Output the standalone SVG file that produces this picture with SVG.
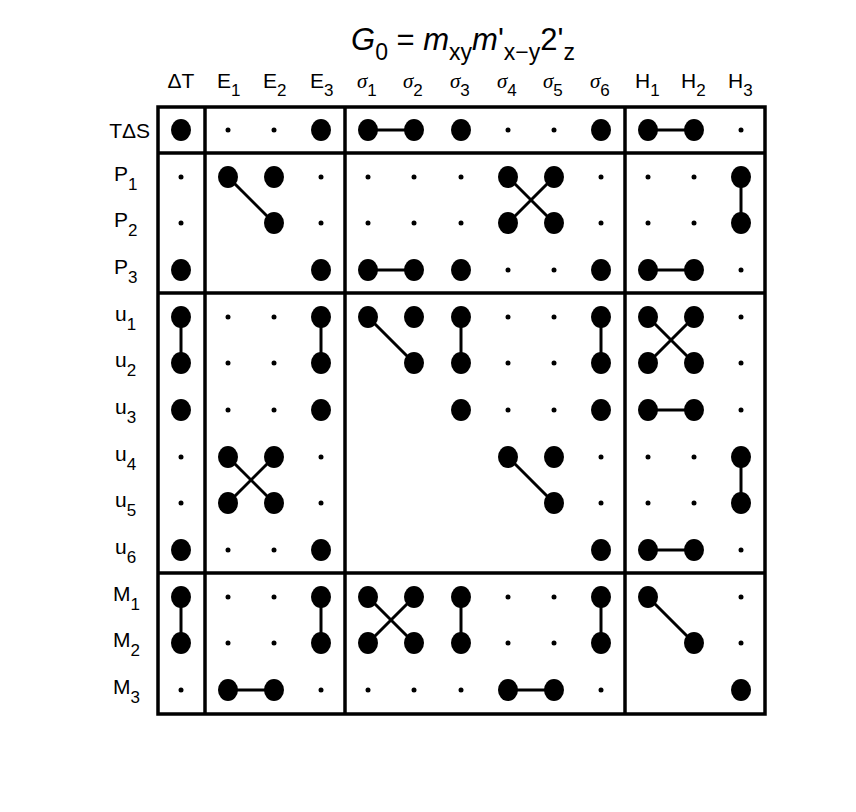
<svg xmlns="http://www.w3.org/2000/svg" xmlns:xlink="http://www.w3.org/1999/xlink" width="856" height="812" viewBox="0 0 856 812">
<style>
text{font-family:"Liberation Sans",Arial,sans-serif;fill:#000}
.lab{font-size:21px}
.sub{font-size:17px}
.sg{font-family:"Liberation Serif",serif;font-style:italic}
.ln{stroke:#000;stroke-width:3;fill:none}
.box{stroke:#000;stroke-width:3.5;fill:none}
</style>
<defs>
<ellipse id="B" rx="10" ry="11" fill="#000"/>
<circle id="s" r="2.5" fill="#000"/>
</defs>
<rect width="856" height="812" fill="#fff"/>
<text x="463" y="50" text-anchor="middle" style="font-size:31px"><tspan font-style="italic">G</tspan><tspan style="font-size:23px" dy="10">0</tspan><tspan dy="-10"> = </tspan><tspan font-style="italic">m</tspan><tspan style="font-size:23px" dy="10">xy</tspan><tspan dy="-10" font-style="italic">m</tspan><tspan>'</tspan><tspan style="font-size:23px" dy="10">x−y</tspan><tspan dy="-10">2'</tspan><tspan style="font-size:23px" dy="10">z</tspan></text>
<g id="collabels" class="lab">
<text x="181" y="88" text-anchor="middle">ΔT</text>
<text x="217" y="88">E<tspan class="sub" dy="8">1</tspan></text>
<text x="263" y="88">E<tspan class="sub" dy="8">2</tspan></text>
<text x="310" y="88">E<tspan class="sub" dy="8">3</tspan></text>
<text x="357" y="88"><tspan class="sg">σ</tspan><tspan class="sub" dy="8">1</tspan></text>
<text x="403" y="88"><tspan class="sg">σ</tspan><tspan class="sub" dy="8">2</tspan></text>
<text x="450" y="88"><tspan class="sg">σ</tspan><tspan class="sub" dy="8">3</tspan></text>
<text x="497" y="88"><tspan class="sg">σ</tspan><tspan class="sub" dy="8">4</tspan></text>
<text x="543" y="88"><tspan class="sg">σ</tspan><tspan class="sub" dy="8">5</tspan></text>
<text x="590" y="88"><tspan class="sg">σ</tspan><tspan class="sub" dy="8">6</tspan></text>
<text x="635" y="88">H<tspan class="sub" dy="8">1</tspan></text>
<text x="681" y="88">H<tspan class="sub" dy="8">2</tspan></text>
<text x="728" y="88">H<tspan class="sub" dy="8">3</tspan></text>
</g>
<g id="rowlabels" class="lab">
<text x="150" y="138" text-anchor="end">TΔS</text>
<text x="114" y="181">P<tspan class="sub" dy="9">1</tspan></text>
<text x="114" y="227">P<tspan class="sub" dy="9">2</tspan></text>
<text x="114" y="274">P<tspan class="sub" dy="9">3</tspan></text>
<text x="115" y="321">u<tspan class="sub" dy="9">1</tspan></text>
<text x="115" y="367">u<tspan class="sub" dy="9">2</tspan></text>
<text x="115" y="414">u<tspan class="sub" dy="9">3</tspan></text>
<text x="115" y="461">u<tspan class="sub" dy="9">4</tspan></text>
<text x="115" y="507">u<tspan class="sub" dy="9">5</tspan></text>
<text x="115" y="554">u<tspan class="sub" dy="9">6</tspan></text>
<text x="113" y="601">M<tspan class="sub" dy="9">1</tspan></text>
<text x="113" y="647">M<tspan class="sub" dy="9">2</tspan></text>
<text x="113" y="694">M<tspan class="sub" dy="9">3</tspan></text>
</g>
<g id="frame" class="box">
<rect x="158" y="107" width="607" height="607"/>
<line x1="205" y1="107" x2="205" y2="714"/>
<line x1="345" y1="107" x2="345" y2="714"/>
<line x1="625" y1="107" x2="625" y2="714"/>
<line x1="158" y1="153" x2="765" y2="153"/>
<line x1="158" y1="293" x2="765" y2="293"/>
<line x1="158" y1="573" x2="765" y2="573"/>
</g>
<g id="connectors" class="ln">
<line x1="368" y1="130" x2="414" y2="130"/>
<line x1="648" y1="130" x2="694" y2="130"/>
<line x1="228" y1="177" x2="274" y2="223"/>
<line x1="508" y1="177" x2="554" y2="223"/>
<line x1="554" y1="177" x2="508" y2="223"/>
<line x1="741" y1="177" x2="741" y2="223"/>
<line x1="368" y1="270" x2="414" y2="270"/>
<line x1="648" y1="270" x2="694" y2="270"/>
<line x1="181" y1="317" x2="181" y2="363"/>
<line x1="321" y1="317" x2="321" y2="363"/>
<line x1="368" y1="317" x2="414" y2="363"/>
<line x1="461" y1="317" x2="461" y2="363"/>
<line x1="601" y1="317" x2="601" y2="363"/>
<line x1="648" y1="317" x2="694" y2="363"/>
<line x1="694" y1="317" x2="648" y2="363"/>
<line x1="648" y1="410" x2="694" y2="410"/>
<line x1="228" y1="457" x2="274" y2="503"/>
<line x1="274" y1="457" x2="228" y2="503"/>
<line x1="508" y1="457" x2="554" y2="503"/>
<line x1="741" y1="457" x2="741" y2="503"/>
<line x1="648" y1="550" x2="694" y2="550"/>
<line x1="181" y1="597" x2="181" y2="643"/>
<line x1="321" y1="597" x2="321" y2="643"/>
<line x1="368" y1="597" x2="414" y2="643"/>
<line x1="414" y1="597" x2="368" y2="643"/>
<line x1="461" y1="597" x2="461" y2="643"/>
<line x1="601" y1="597" x2="601" y2="643"/>
<line x1="648" y1="597" x2="694" y2="643"/>
<line x1="228" y1="690" x2="274" y2="690"/>
<line x1="508" y1="690" x2="554" y2="690"/>
</g>
<g id="row-TdS" transform="translate(0,130)">
<use href="#B" x="181"/><use href="#s" x="228"/><use href="#s" x="274"/><use href="#B" x="321"/><use href="#B" x="368"/><use href="#B" x="414"/><use href="#B" x="461"/><use href="#s" x="508"/><use href="#s" x="554"/><use href="#B" x="601"/><use href="#B" x="648"/><use href="#B" x="694"/><use href="#s" x="741"/>
</g>
<g id="row-P1" transform="translate(0,177)">
<use href="#s" x="181"/><use href="#B" x="228"/><use href="#B" x="274"/><use href="#s" x="321"/><use href="#s" x="368"/><use href="#s" x="414"/><use href="#s" x="461"/><use href="#B" x="508"/><use href="#B" x="554"/><use href="#s" x="601"/><use href="#s" x="648"/><use href="#s" x="694"/><use href="#B" x="741"/>
</g>
<g id="row-P2" transform="translate(0,223)">
<use href="#s" x="181"/><use href="#B" x="274"/><use href="#s" x="321"/><use href="#s" x="368"/><use href="#s" x="414"/><use href="#s" x="461"/><use href="#B" x="508"/><use href="#B" x="554"/><use href="#s" x="601"/><use href="#s" x="648"/><use href="#s" x="694"/><use href="#B" x="741"/>
</g>
<g id="row-P3" transform="translate(0,270)">
<use href="#B" x="181"/><use href="#B" x="321"/><use href="#B" x="368"/><use href="#B" x="414"/><use href="#B" x="461"/><use href="#s" x="508"/><use href="#s" x="554"/><use href="#B" x="601"/><use href="#B" x="648"/><use href="#B" x="694"/><use href="#s" x="741"/>
</g>
<g id="row-u1" transform="translate(0,317)">
<use href="#B" x="181"/><use href="#s" x="228"/><use href="#s" x="274"/><use href="#B" x="321"/><use href="#B" x="368"/><use href="#B" x="414"/><use href="#B" x="461"/><use href="#s" x="508"/><use href="#s" x="554"/><use href="#B" x="601"/><use href="#B" x="648"/><use href="#B" x="694"/><use href="#s" x="741"/>
</g>
<g id="row-u2" transform="translate(0,363)">
<use href="#B" x="181"/><use href="#s" x="228"/><use href="#s" x="274"/><use href="#B" x="321"/><use href="#B" x="414"/><use href="#B" x="461"/><use href="#s" x="508"/><use href="#s" x="554"/><use href="#B" x="601"/><use href="#B" x="648"/><use href="#B" x="694"/><use href="#s" x="741"/>
</g>
<g id="row-u3" transform="translate(0,410)">
<use href="#B" x="181"/><use href="#s" x="228"/><use href="#s" x="274"/><use href="#B" x="321"/><use href="#B" x="461"/><use href="#s" x="508"/><use href="#s" x="554"/><use href="#B" x="601"/><use href="#B" x="648"/><use href="#B" x="694"/><use href="#s" x="741"/>
</g>
<g id="row-u4" transform="translate(0,457)">
<use href="#s" x="181"/><use href="#B" x="228"/><use href="#B" x="274"/><use href="#s" x="321"/><use href="#B" x="508"/><use href="#B" x="554"/><use href="#s" x="601"/><use href="#s" x="648"/><use href="#s" x="694"/><use href="#B" x="741"/>
</g>
<g id="row-u5" transform="translate(0,503)">
<use href="#s" x="181"/><use href="#B" x="228"/><use href="#B" x="274"/><use href="#s" x="321"/><use href="#B" x="554"/><use href="#s" x="601"/><use href="#s" x="648"/><use href="#s" x="694"/><use href="#B" x="741"/>
</g>
<g id="row-u6" transform="translate(0,550)">
<use href="#B" x="181"/><use href="#s" x="228"/><use href="#s" x="274"/><use href="#B" x="321"/><use href="#B" x="601"/><use href="#B" x="648"/><use href="#B" x="694"/><use href="#s" x="741"/>
</g>
<g id="row-M1" transform="translate(0,597)">
<use href="#B" x="181"/><use href="#s" x="228"/><use href="#s" x="274"/><use href="#B" x="321"/><use href="#B" x="368"/><use href="#B" x="414"/><use href="#B" x="461"/><use href="#s" x="508"/><use href="#s" x="554"/><use href="#B" x="601"/><use href="#B" x="648"/><use href="#s" x="741"/>
</g>
<g id="row-M2" transform="translate(0,643)">
<use href="#B" x="181"/><use href="#s" x="228"/><use href="#s" x="274"/><use href="#B" x="321"/><use href="#B" x="368"/><use href="#B" x="414"/><use href="#B" x="461"/><use href="#s" x="508"/><use href="#s" x="554"/><use href="#B" x="601"/><use href="#B" x="694"/><use href="#s" x="741"/>
</g>
<g id="row-M3" transform="translate(0,690)">
<use href="#s" x="181"/><use href="#B" x="228"/><use href="#B" x="274"/><use href="#s" x="321"/><use href="#s" x="368"/><use href="#s" x="414"/><use href="#s" x="461"/><use href="#B" x="508"/><use href="#B" x="554"/><use href="#s" x="601"/><use href="#B" x="741"/>
</g>
</svg>
